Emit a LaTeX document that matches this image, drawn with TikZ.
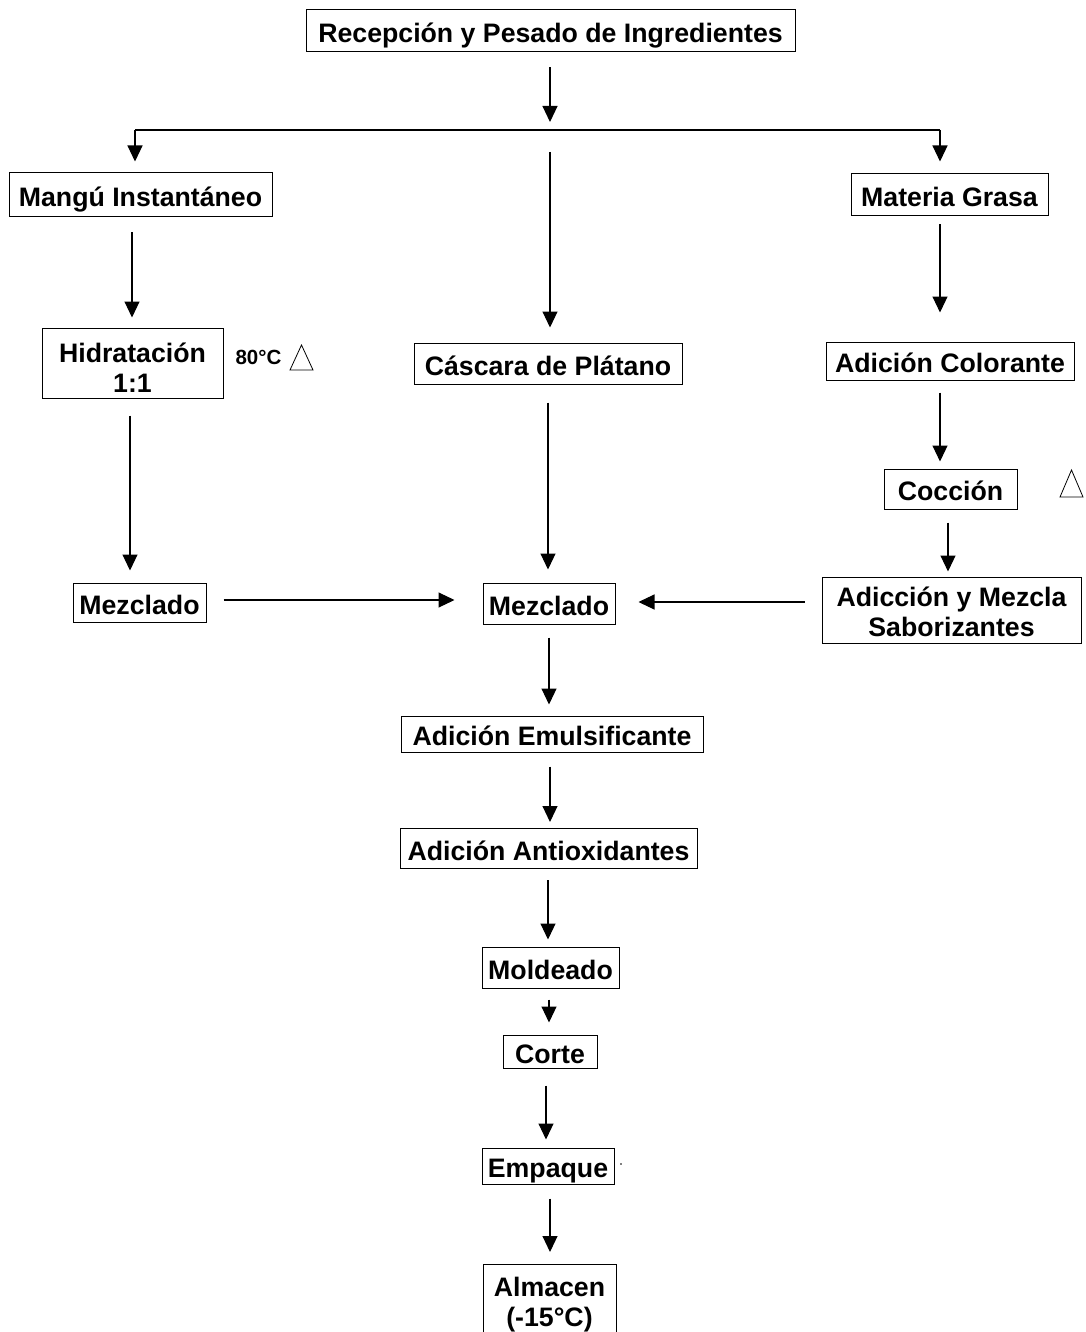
\documentclass[tikz,border=0pt]{standalone}
\usepackage{fontspec}
\setmainfont{Liberation Sans}
\usetikzlibrary{arrows.meta}
\begin{document}
\begin{tikzpicture}[x=1pt,y=-1pt,
  box/.style={draw, line width=1pt, inner sep=0pt, align=center,
    text height=25pt, text depth=2pt,
    font=\bfseries\fontsize{26.7}{30}\selectfont},
  twoline/.style={box, text height=61pt, text depth=2pt},
  flow/.style={line width=1.1pt, -{Triangle[width=15pt,length=16pt]}},
  plain/.style={line width=1.1pt},
  heat/.style={line width=0.8pt}]
\fill[white] (0,0) rectangle (1085,1332);
\useasboundingbox (0,0) rectangle (1085,1332);
\clip (0,0) rectangle (1085,1332);

% process steps
\node[box, minimum width=489pt, minimum height=42pt] (rec) at (550.5,31) {Recepción y Pesado de Ingredientes};
\node[box, minimum width=263pt, minimum height=44pt] (mangu) at (140.5,195) {Mangú Instantáneo};
\node[twoline, minimum width=181pt, minimum height=70pt] (hid) at (132.5,363) {Hidratación\\1:1};
\node[box, minimum width=133pt, minimum height=39pt] (mezL) at (139.5,602.5) {Mezclado};
\node[box, minimum width=268pt, minimum height=41pt] (casc) at (548,363.5) {Cáscara de Plátano};
\node[box, minimum width=132pt, minimum height=41pt] (mezC) at (549,603.5) {Mezclado};
\node[box, minimum width=197pt, minimum height=42pt] (mat) at (949.5,195) {Materia Grasa};
\node[box, minimum width=248pt, minimum height=38pt] (col) at (950,361) {Adición Colorante};
\node[box, minimum width=133pt, minimum height=40pt] (coc) at (950.5,489) {Cocción};
\node[twoline, text height=54pt, minimum width=259pt, minimum height=66pt] (sab) at (951.5,610) {Adicción y Mezcla\\Saborizantes};
\node[box, minimum width=302pt, minimum height=36pt] (emu) at (552,734) {Adición Emulsificante};
\node[box, minimum width=297pt, minimum height=40pt] (ant) at (548.5,848.5) {Adición Antioxidantes};
\node[box, minimum width=137pt, minimum height=41pt] (mol) at (550.5,967.5) {Moldeado};
\node[box, minimum width=94pt, minimum height=33pt] (cor) at (550,1051.5) {Corte};
\node[box, minimum width=132pt, minimum height=36pt] (emp) at (548,1166) {Empaque};
\node[twoline, text height=61.5pt, text depth=18.5pt, minimum width=133pt, anchor=north] (alm) at (549.5,1264) {Almacen\\(-15°C)};

% heat marks
\node[font=\bfseries\fontsize{20.5}{24}\selectfont, inner sep=0pt] (t80) at (258.5,357) {80°C};
\draw[heat] (290,370) -- (313,370) -- (301.5,345) -- cycle;
\draw[heat] (1060,497) -- (1083,497) -- (1071.5,470) -- cycle;
\fill (621,1164) circle (0.9);

% split of the ingredients
\coordinate (split) at (550,130);
\coordinate (splitL) at (135,130);
\coordinate (splitR) at (940,130);
\draw[flow, shorten <=15pt, shorten >=8pt] (rec.south -| split) -- (split);
\draw[plain] (splitL) -- (splitR);
\draw[flow, shorten >=11pt] (splitL) -- (mangu.north -| splitL);
\draw[flow, shorten >=12pt] (splitR) -- (mat.north -| splitR);
\draw[flow, shorten <=22pt, shorten >=15pt] (split) -- (casc.north -| split);

% left branch
\draw[flow, shorten <=15pt, shorten >=10pt] (mangu.south -| 132,0) -- (hid.north -| 132,0);
\draw[flow, shorten <=17pt, shorten >=12pt] (hid.south -| 130,0) -- (mezL.north -| 130,0);
\draw[flow, shorten <=17pt, shorten >=28pt] (mezL.east |- 0,600) -- (mezC.west |- 0,600);

% middle branch
\draw[flow, shorten <=18pt, shorten >=13pt] (casc.south -| 548,0) -- (mezC.north -| 548,0);

% right branch
\draw[flow, shorten <=8pt, shorten >=29pt] (mat.south -| 940,0) -- (col.north -| 940,0);
\draw[flow, shorten <=12pt, shorten >=7pt] (col.south -| 940,0) -- (coc.north -| 940,0);
\draw[flow, shorten <=13pt, shorten >=5pt] (coc.south -| 948,0) -- (sab.north -| 948,0);
\draw[flow, shorten <=17pt, shorten >=23pt] (sab.west |- 0,602) -- (mezC.east |- 0,602);

% main line
\draw[flow, shorten <=13pt, shorten >=11pt] (mezC.south -| 549,0) -- (emu.north -| 549,0);
\draw[flow, shorten <=14pt, shorten >=6pt] (emu.south -| 550,0) -- (ant.north -| 550,0);
\draw[flow, shorten <=11pt, shorten >=7pt] (ant.south -| 548,0) -- (mol.north -| 548,0);
\draw[flow, shorten <=11pt, shorten >=12pt] (mol.south -| 549,0) -- (cor.north -| 549,0);
\draw[flow, shorten <=17pt, shorten >=8pt] (cor.south -| 546,0) -- (emp.north -| 546,0);
\draw[flow, shorten <=14pt, shorten >=12pt] (emp.south -| 550,0) -- (alm.north -| 550,0);
\end{tikzpicture}
\end{document}
